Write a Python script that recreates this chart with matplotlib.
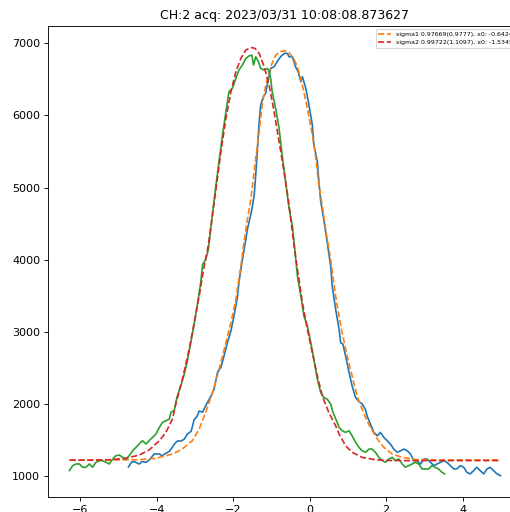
import matplotlib
matplotlib.use("Agg")
import matplotlib.pyplot as plt

title = "CH:2 acq: 2023/03/31 10:08:08.873627"

blue_x = [-4.74, -4.66, -4.59, -4.46, -4.38, -4.27, -4.17, -4.07, -3.93, -3.86, -3.79, -3.66, -3.54,
          -3.46, -3.36, -3.28, -3.20, -3.10, -3.02, -2.94, -2.89, -2.80, -2.72, -2.58, -2.50, -2.41,
          -2.32, -2.24, -2.15, -2.06, -1.98, -1.89, -1.85, -1.76, -1.67, -1.63, -1.57, -1.51, -1.45,
          -1.41, -1.37, -1.32, -1.28, -1.24, -1.21, -1.15, -1.11, -1.02, -0.93, -0.85, -0.76, -0.67,
          -0.58, -0.54, -0.45, -0.37, -0.30, -0.23, -0.19, -0.10, -0.02, 0.07, 0.11, 0.20, 0.24, 0.29,
          0.33, 0.37, 0.46, 0.55, 0.59, 0.68, 0.77, 0.81, 0.87, 0.94, 1.03, 1.11, 1.20, 1.29, 1.37,
          1.46, 1.50, 1.59, 1.68, 1.77, 1.85, 1.94, 2.03, 2.11, 2.20, 2.29, 2.38, 2.46, 2.55, 2.64,
          2.72, 2.81, 2.90, 2.99, 3.07, 3.16, 3.25, 3.33, 3.42, 3.51, 3.59, 3.68, 3.77, 3.85, 3.94,
          4.03, 4.11, 4.20, 4.29, 4.37, 4.46, 4.55, 4.64, 4.72, 4.81, 4.90, 4.99]
blue_y = [1125, 1190, 1200, 1165, 1200, 1190, 1235, 1305, 1305, 1280, 1305, 1345, 1440,
          1485, 1485, 1510, 1580, 1620, 1780, 1830, 1900, 1885, 1972, 2110, 2203, 2438,
          2508, 2664, 2851, 3010, 3217, 3475, 3683, 4000, 4278, 4416, 4554, 4700, 4900,
          5177, 5499, 5914, 6145, 6214, 6260, 6306, 6421, 6652, 6675, 6744, 6813, 6860,
          6860, 6813, 6813, 6675, 6605, 6467, 6536, 6376, 6145, 5868, 5592, 5361, 5084, 4807,
          4680, 4554, 4236, 3908, 3632, 3310, 3033, 2849, 2826, 2664, 2434, 2249, 2088, 2030, 2000,
          1920, 1834, 1719, 1604, 1557, 1604, 1535, 1488, 1443, 1373, 1328, 1350, 1373, 1350, 1304,
          1212, 1212, 1166, 1235, 1235, 1189, 1143, 1166, 1189, 1212, 1189, 1143, 1097, 1097, 1143,
          1120, 1051, 1028, 1074, 1120, 1074, 1028, 1097, 1120, 1074, 1028, 1005]

green_x = [-6.28, -6.20, -6.11, -6.02, -5.94, -5.85, -5.76, -5.68, -5.59, -5.50, -5.42, -5.33, -5.24,
           -5.15, -5.07, -4.98, -4.89, -4.80, -4.72, -4.63, -4.54, -4.46, -4.37, -4.28, -4.20, -4.11,
           -4.02, -3.93, -3.85, -3.76, -3.67, -3.63, -3.54, -3.50, -3.46, -3.37, -3.28, -3.20, -3.11,
           -3.02, -2.93, -2.85, -2.80, -2.72, -2.65, -2.58, -2.54, -2.45, -2.37, -2.28, -2.19, -2.11,
           -2.02, -1.93, -1.85, -1.76, -1.67, -1.58, -1.51, -1.47, -1.41, -1.34, -1.28, -1.19, -1.11,
           -1.06, -1.02, -0.98, -0.89, -0.80, -0.72, -0.63, -0.54, -0.45, -0.38, -0.32, -0.23, -0.15,
           -0.06, 0.03, 0.11, 0.20, 0.29, 0.37, 0.46, 0.55, 0.61, 0.72, 0.77, 0.85, 0.94, 1.03, 1.11,
           1.20, 1.29, 1.37, 1.46, 1.55, 1.63, 1.72, 1.81, 1.90, 1.98, 2.07, 2.16, 2.24, 2.33, 2.42,
           2.50, 2.59, 2.68, 2.76, 2.85, 2.94, 3.02, 3.11, 3.20, 3.28, 3.37, 3.46, 3.53]
green_y = [1074, 1143, 1166, 1166, 1120, 1120, 1166, 1120, 1189, 1212, 1212, 1189, 1166,
           1235, 1281, 1290, 1258, 1235, 1281, 1350, 1397, 1443, 1488, 1443, 1488, 1535,
           1581, 1673, 1742, 1765, 1788, 1881, 1910, 2019, 2110, 2249, 2411, 2595, 2849,
           3102, 3402, 3679, 3932, 4001, 4139, 4462, 4647, 5038, 5361, 5730, 6052, 6329,
           6376, 6514, 6629, 6698, 6791, 6827, 6836, 6698, 6813, 6744, 6652, 6629, 6652,
           6605, 6514, 6329, 6099, 5822, 5453, 5084, 4716, 4462, 4094, 3770, 3494, 3217,
           3079, 2849, 2618, 2342, 2157, 2088, 2065, 1996, 1881, 1742, 1673, 1627, 1604, 1627, 1557,
           1466, 1397, 1350, 1328, 1373, 1373, 1328, 1258, 1212, 1189, 1235, 1258, 1212, 1235, 1166,
           1120, 1143, 1166, 1189, 1166, 1097, 1097, 1097, 1143, 1120, 1097, 1051, 1028]

fit1_x = [-6.28, -5.24, -4.46, -4.02, -3.59, -3.33, -3.07, -2.89, -2.72, -2.54, -2.37, -2.19, -2.06,
          -1.93, -1.80, -1.72, -1.63, -1.54, -1.41, -1.32, -1.24, -1.15, -1.02, -0.89, -0.76, -0.64,
          -0.54, -0.41, -0.32, -0.19, -0.06, 0.07, 0.16, 0.24, 0.33, 0.42, 0.55, 0.63, 0.72, 0.85,
          0.98, 1.11, 1.24, 1.42, 1.59, 1.77, 1.94, 2.16, 2.42, 2.77, 3.38, 4.99]
fit1_y = [1222, 1222, 1225, 1245, 1304, 1373, 1488, 1650, 1881, 2157, 2480, 2849, 3125,
          3448, 3908, 4232, 4554, 4831, 5407, 5776, 6145, 6421, 6675, 6836, 6887, 6896,
          6873, 6781, 6675, 6421, 6099, 5730, 5407, 5038, 4750, 4420, 4001, 3679, 3355, 2987,
          2664, 2387, 2110, 1858, 1670, 1512, 1397, 1304, 1258, 1228, 1222, 1222]

fit2_x = [-6.28, -5.68, -5.24, -4.80, -4.46, -4.20, -3.93, -3.76, -3.59, -3.50, -3.33, -3.15, -3.02,
          -2.89, -2.76, -2.67, -2.58, -2.50, -2.45, -2.32, -2.19, -2.06, -1.93, -1.80, -1.67, -1.54,
          -1.43, -1.32, -1.19, -1.06, -0.93, -0.80, -0.67, -0.54, -0.45, -0.37, -0.28, -0.19, -0.06,
          0.07, 0.20, 0.33, 0.50, 0.68, 0.77, 0.94, 1.11, 1.37, 1.72, 2.07, 2.51, 4.99]
fit2_y = [1218, 1218, 1225, 1245, 1290, 1360, 1488, 1604, 1788, 2000, 2340, 2757, 3125,
          3494, 3908, 4139, 4462, 4785, 4980, 5499, 5960, 6329, 6605, 6791, 6906, 6943,
          6929, 6860, 6675, 6421, 6052, 5637, 5222, 4762, 4370, 4047, 3725, 3402, 3033,
          2711, 2387, 2110, 1881, 1696, 1581, 1419, 1328, 1258, 1225, 1215, 1213, 1213]

label1 = "sigma1 0.97669(0.9777), x0: -0.64241"
label2 = "sigma2 0.99722(1.1097), x0: -1.53451"

fig = plt.figure(figsize=(510 / 80, 512 / 80), dpi=80)
ax = fig.add_axes([48 / 510, 1 - 497 / 512, (522 - 48) / 510, (497 - 26) / 512])

ax.plot(blue_x, blue_y, color="C0")
ax.plot(fit1_x, fit1_y, "--", color="C1", label=label1)
ax.plot(green_x, green_y, color="C2")
ax.plot(fit2_x, fit2_y, "--", color="C3", label=label2)

ax.set_title(title, fontsize=11.3)
ax.legend(loc="upper right", fontsize=5.6)

fig.savefig("out.png", dpi=80)
